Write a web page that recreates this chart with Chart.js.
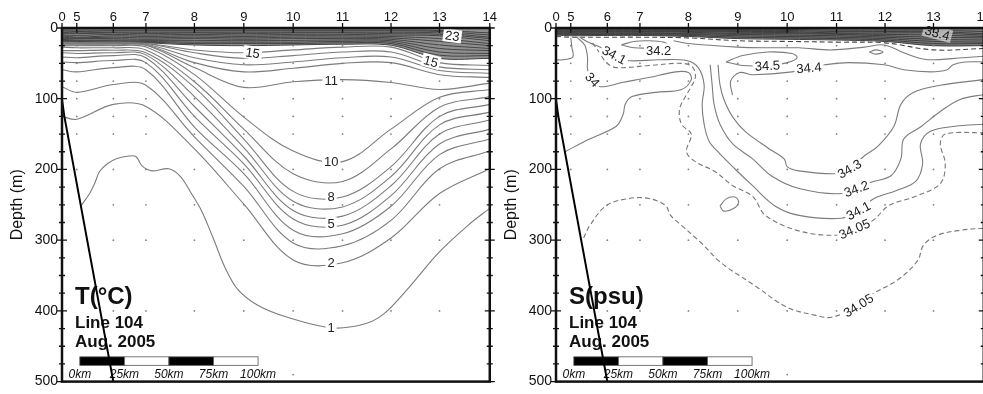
<!DOCTYPE html>
<html>
<head>
<meta charset="utf-8">
<script src="https://cdn.jsdelivr.net/npm/chart.js@4.4.1/dist/chart.umd.min.js"></script>
<style>
  html, body { margin: 0; padding: 0; background: #fff; width: 983px; height: 394px; overflow: hidden; }
  .panel { position: absolute; top: 0; width: 500px; height: 394px; }
  #left { left: 0; }
  #right { left: 494px; }
</style>
</head>
<body>
<div class="panel" id="left"><canvas id="tempCanvas" width="500" height="394"></canvas></div>
<div class="panel" id="right"><canvas id="saltCanvas" width="500" height="394"></canvas></div>
<script>
// Section Line 104, Aug. 2005: stations along the top, distance in km, depth in m
const stationNames = ['0', '5', '6', '7', '8', '9', '10', '11', '12', '13', '14'];
const stationKm = [0, 8.3, 28.8, 47.1, 74.3, 102, 129.7, 157.4, 184.6, 211.8, 240];
const sampleDepths = [25, 50, 75, 100, 125, 150, 200, 250, 300, 400, 490];
const stationDeepest = [0, 200, 400, 400, 400, 400, 490, 400, 400, 400, 0];
const seabed = [[0, 102], [0.6, 112], [1.4, 126], [28.8, 500]];
const scaleBarKm = [0, 25, 50, 75, 100];
const scaleBarStart = 10;

// ---- temperature ----
// warm surface layer, isotherms 27 .. 16 (depth at each station)
const tempSurface = [
  [3, 3, 3, 3, 3, 3, 3, 3, 3, 3.5, 7],
  [4, 5, 4, 4, 4, 4, 4, 4, 4, 5, 10],
  [6, 7, 6, 6, 6, 6, 6, 6, 6, 7, 13],
  [8, 8, 7, 8, 7, 8, 7, 7, 8, 9, 15],
  [10, 10.5, 9, 10, 9, 10, 9, 9, 10, 11, 18],
  [11, 13, 11, 12, 11, 12, 11, 11, 12, 15, 22],
  [13, 14, 13, 14, 13, 14, 13, 13, 14, 19, 25],
  [15, 15, 15, 16, 15, 16, 15, 15, 16, 24, 29],
  [16, 17, 17, 17.5, 17.5, 18, 17.5, 17, 18, 29, 32],
  [17.5, 18, 18, 19, 20, 20, 20, 19, 20, 34, 36],
  [18, 19, 20, 20, 22, 22, 22, 21, 22, 38.5, 39],
  [19, 20, 20, 21, 24, 25, 24, 23, 24.5, 43, 43]
];
const tempLevels = [15, 14, 13, 12, 11, 10, 9, 8, 7, 6, 5, 4, 3, 2];
const tempDepths = [
  [20, 21, 21, 22, 31, 35, 31, 27, 27, 49, 53],
  [21, 22, 22, 22, 35, 43, 39, 34, 34, 55, 59],
  [22, 22, 22, 23, 42, 52, 48, 42, 41, 60, 64],
  [23, 23, 23, 24, 49, 62, 57, 50, 49, 66, 70],
  [24, 24, 24, 24.5, 56, 84, 76, 73, 77, 87, 78],
  [25, 25, 25, 27, 66, 126, 174, 189, 143, 98, 87],
  [27, 28, 28, 31, 76, 143, 206, 217, 171, 112, 97],
  [32, 32, 31.5, 35, 84, 157, 231, 239, 196, 125, 108],
  [35, 36, 35, 38, 97, 169, 245, 253, 210, 137, 119],
  [41, 42, 39, 42, 111, 181, 258, 266, 223, 150, 130],
  [48, 49, 46, 49, 125, 192, 270, 279, 237, 164, 143],
  [59, 62, 56, 59, 140, 206, 286, 291, 252, 179, 157],
  [83, 91, 80, 81, 154, 224, 304, 308, 272, 199, 174],
  [125, 129, 108, 111, 171, 249, 328, 332, 297, 234, 199]
];
// the 1 degree isotherm leaves the slope and wraps under the cold pool
const temp1 = [[10.5, 252], [15.5, 234], [18.3, 220], [21.1, 203], [25.5, 192], [30.5, 185], [37.7, 181],
  [41.6, 182], [44.9, 195], [50.4, 202], [59.9, 199], [66.5, 210], [72.6, 234], [78.2, 258], [84.8, 297],
  [91.5, 339], [98.7, 370], [109.8, 392], [126.4, 409], [151.3, 424], [169.1, 419], [180.2, 405],
  [194.6, 367], [211.2, 318], [227.8, 279], [240, 255]];
const tempLabelText = ['23', '15', '15', '11', '10', '8', '5', '2', '1'];
const tempLabelAt = [[219, 11], [107, 35], [207, 47], [151, 74], [151, 189], [151, 238], [151, 276], [151, 331], [151, 424]];
const tempLabelTilt = [8, 8, 15, 0, 0, 0, 0, 0, 0];

// ---- salinity ----
const salSurface = [
  [2, 2, 2, 2, 2, 2, 2, 3, 3, 3, 5],
  [3, 3, 3, 3, 3, 3.5, 3.5, 5, 5, 5, 8],
  [4, 4, 4, 4, 4, 5, 5, 7, 7, 7, 10],
  [5, 5, 5, 5, 5, 6, 6.5, 8, 9, 10, 12],
  [6, 6, 6, 6, 6, 8, 8, 9, 11, 13, 14],
  [7, 7, 7.5, 7.5, 8, 9, 10, 11, 13, 16, 17],
  [8, 8, 8.5, 8.5, 9, 11, 12, 13, 15, 19, 20],
  [9, 9, 9.5, 9.5, 10.5, 13, 14, 15, 17, 22, 22],
  [10, 11, 10.5, 10.5, 12, 15, 16, 17, 19, 25, 25]
];
const salSurfaceDash = [12, 13, 13, 13, 14, 18, 19, 20, 21, 31, 29];
const salShelfCurl = [[8.3, 14], [8.9, 27], [9.4, 41], [3.9, 45], [0, 45]];
const sal340 = [[11.6, 13], [16.1, 24], [17.7, 42], [17.7, 59], [20.5, 73], [24.9, 83], [37.1, 77], [52.1, 70],
  [67.1, 62], [74.3, 63], [75.9, 73], [70.4, 87], [56, 91], [42.7, 97], [38.8, 108], [37.7, 122], [33.8, 139],
  [18.8, 157], [5, 175]];
const sal3405Upper = [[20.5, 21], [24.4, 35], [28.3, 49], [33.8, 56], [52.1, 53], [70.4, 50], [76.5, 55],
  [78.2, 69], [75.9, 83], [72.6, 97], [69.3, 115], [70.4, 136], [75.9, 150], [73.2, 175], [78.2, 189],
  [89.2, 203], [99.2, 223], [110.3, 238], [117.5, 265], [136.4, 287], [158.5, 293], [167.4, 284],
  [177.9, 272], [186.8, 251], [201.8, 238], [215.6, 220], [218.4, 192], [215.6, 164], [218.4, 150], [240, 148]];
const sal3405Lower = [[15.5, 297], [18.8, 280], [28.3, 251], [41, 241], [52.1, 241], [61.5, 251], [64.3, 265],
  [70.4, 279], [81.5, 304], [92.6, 332], [111.4, 364], [129.7, 395], [145.2, 406], [154.7, 409], [169.6, 392],
  [176.8, 377], [191.8, 356], [202.9, 329], [206.2, 307], [214, 293], [226.7, 286], [240, 283]];
const sal341 = [[13.3, 13], [18.8, 21], [25.5, 28], [32.7, 38], [39.9, 46], [57.6, 45], [73.2, 46], [79.8, 56],
  [83.1, 80], [82, 108], [83.1, 136], [85.9, 160], [92, 178], [100.3, 199], [110.3, 223], [123.1, 252],
  [136.4, 265], [160.2, 269], [169.6, 258], [178.5, 241], [190.7, 230], [201.8, 217], [205.7, 192],
  [204.5, 164], [210.1, 146], [224, 139], [240, 136]];
const sal342 = [[86.5, 52], [87.6, 80], [88.7, 108], [92, 136], [99.2, 164], [110.3, 185], [121.4, 210],
  [136.4, 227], [160.2, 234], [176.8, 218], [187.9, 209], [193.5, 185], [195.1, 157], [204.5, 140],
  [215.6, 118], [226.7, 101], [240, 94]];
const sal343 = [[90.9, 52], [92, 80], [94.2, 101], [99.2, 126], [106.4, 147], [119.7, 171], [128, 185],
  [129.7, 196], [136.4, 202], [157.4, 206], [164.6, 199], [172.9, 181], [180.7, 167], [189.6, 139],
  [193.5, 108], [200.7, 91], [215.6, 81], [240, 73]];
const sal344 = [[99, 95], [98, 75], [103, 63], [110.3, 66], [132.5, 62], [141.9, 56], [150.8, 52], [164.1, 49],
  [184, 52], [195.1, 59], [210.1, 62], [219.5, 59], [222.8, 52], [229.5, 48], [240, 48]];
const sal345 = [[95.3, 48], [104.8, 39], [118.6, 34], [132.5, 36], [135.3, 42], [129.7, 49], [118.6, 53],
  [104.8, 53], [95.3, 48]];
const salCoreEye = [[36.6, 24], [43.8, 19], [52.1, 18], [60.4, 20], [63.2, 25], [54.9, 28], [43.8, 28], [36.6, 24]];
const salSubsurface = [[66, 18], [74.3, 22], [102, 27], [117.5, 28], [136.4, 28], [154.7, 31], [173, 27],
  [184, 24], [195.1, 35], [202.9, 42], [210.1, 45], [228.4, 42], [240, 40]];
const salSmallEye = [[175.7, 34], [179.6, 31], [183.5, 34], [179.6, 37], [175.7, 34]];
const salDeepLoop = [[92, 252], [95.3, 242], [100.3, 239], [102.5, 246], [99.8, 255], [94.2, 259], [92, 252]];
const salLabelText = ['33.4', '34.2', '34.1', '34', '34.5', '34.4', '34.3', '34.2', '34.1', '34.05', '34.05'];
const salLabelAt = [[214, 7], [57.6, 31], [32.7, 38], [20.5, 73], [118.6, 53], [141.9, 56], [164.6, 199],
  [168.5, 227], [169.6, 258], [167.4, 284], [169.6, 392]];
const salLabelTilt = [15, 0, 28, 48, -3, -5, -30, -20, -28, -23, -32];

const FONT = '"Liberation Sans", Arial, Helvetica, sans-serif';
Chart.defaults.font.family = FONT;

function lineSet(points, extra) {
  return Object.assign({
    data: points.map(p => ({ x: p[0], y: p[1] })),
    showLine: true,
    pointRadius: 0,
    borderColor: '#7c7c7c',
    borderWidth: 1.1,
    tension: 0.35,
    fill: false
  }, extra || {});
}
function stationSet(depths, extra) {
  return lineSet(stationKm.map((k, i) => [k, depths[i]]), extra);
}

const samplePoints = [];
stationKm.forEach((k, i) => {
  sampleDepths.forEach(d => { if (d <= stationDeepest[i]) samplePoints.push({ x: k, y: d }); });
});

function commonSets() {
  return [
    lineSet(seabed, { borderColor: '#000', borderWidth: 2, tension: 0.2 }),
    { data: samplePoints, showLine: false, pointRadius: 0.9, pointBackgroundColor: '#808080', pointBorderWidth: 0 }
  ];
}

// contour labels sit on a white patch that breaks their line
const isoLabels = {
  id: 'isoLabels',
  afterDatasetsDraw(chart, args, opts) {
    const { ctx, scales: { x, y } } = chart;
    ctx.save();
    ctx.font = '13px ' + FONT;
    ctx.textAlign = 'center';
    ctx.textBaseline = 'middle';
    opts.text.forEach((t, i) => {
      ctx.save();
      ctx.translate(x.getPixelForValue(opts.at[i][0]), y.getPixelForValue(opts.at[i][1]));
      ctx.rotate(opts.tilt[i] * Math.PI / 180);
      const w = ctx.measureText(t).width + 4;
      ctx.fillStyle = (opts.soft && opts.soft.includes(i)) ? 'rgba(255,255,255,0.55)' : '#fff';
      ctx.fillRect(-w / 2, -6.5, w, 13);
      ctx.fillStyle = '#222';
      ctx.fillText(t, 0, 1);
      ctx.restore();
    });
    ctx.restore();
  }
};

// panel caption and distance scale bar
const caption = {
  id: 'caption',
  beforeDatasetsDraw(chart, args, opts) {
    const { ctx, chartArea: a, scales: { x, y } } = chart;
    ctx.save();
    ctx.fillStyle = '#111';
    ctx.textAlign = 'left';
    ctx.textBaseline = 'alphabetic';
    ctx.font = 'bold 24px ' + FONT;
    ctx.fillText(opts.title, a.left + 13, a.bottom - 78);
    ctx.font = 'bold 17px ' + FONT;
    ctx.fillText('Line 104', a.left + 13, a.bottom - 54);
    ctx.fillText('Aug. 2005', a.left + 13, a.bottom - 35);

    const top = y.getPixelForValue(465);
    const h = y.getPixelForValue(477) - top;
    for (let i = 0; i < scaleBarKm.length - 1; i++) {
      const x0 = x.getPixelForValue(scaleBarStart + scaleBarKm[i]);
      const x1 = x.getPixelForValue(scaleBarStart + scaleBarKm[i + 1]);
      ctx.fillStyle = i % 2 === 0 ? '#000' : '#fff';
      ctx.fillRect(x0, top, x1 - x0, h);
      ctx.strokeStyle = '#555';
      ctx.lineWidth = 0.8;
      ctx.strokeRect(x0, top, x1 - x0, h);
    }
    ctx.fillStyle = '#111';
    ctx.textAlign = 'center';
    ctx.font = 'italic 12px ' + FONT;
    scaleBarKm.forEach(k => {
      ctx.fillText(k + 'km', x.getPixelForValue(scaleBarStart + k), top + h + 13);
    });
    ctx.restore();
  }
};

// heavy frame, station ticks on top, 25 m ticks on both sides, axis title
const frame = {
  id: 'frame',
  afterDraw(chart) {
    const { ctx, chartArea: a, scales: { x, y } } = chart;
    ctx.save();
    ctx.strokeStyle = '#111';
    ctx.lineWidth = 1.3;
    ctx.beginPath();
    stationKm.forEach(k => {
      const px = x.getPixelForValue(k);
      ctx.moveTo(px, a.top - 5);
      ctx.lineTo(px, a.top + 5);
    });
    for (let d = 0; d <= 500; d += 25) {
      const py = y.getPixelForValue(d);
      const len = d % 100 === 0 ? 5 : 3;
      ctx.moveTo(a.left - len, py); ctx.lineTo(a.left + len, py);
      ctx.moveTo(a.right - len, py); ctx.lineTo(a.right + len, py);
    }
    ctx.stroke();
    ctx.lineWidth = 2.5;
    ctx.strokeRect(a.left, a.top, a.right - a.left, a.bottom - a.top);

    ctx.translate(18, (a.top + a.bottom) / 2);
    ctx.rotate(-Math.PI / 2);
    ctx.fillStyle = '#111';
    ctx.font = '16px ' + FONT;
    ctx.textAlign = 'center';
    ctx.textBaseline = 'middle';
    ctx.fillText('Depth (m)', 0, 0);
    ctx.restore();
  }
};

function sectionOptions(title, labels) {
  return {
    responsive: false,
    animation: false,
    layout: { padding: { left: 0, right: 5, top: 0, bottom: 9 } },
    scales: {
      x: {
        type: 'linear',
        position: 'top',
        min: 0,
        max: 240,
        afterBuildTicks: s => { s.ticks = stationKm.map(v => ({ value: v })); },
        afterFit: s => { s.height = 28; },
        ticks: {
          autoSkip: false,
          maxRotation: 0,
          padding: 3,
          color: '#111',
          font: { size: 13 },
          callback: (v, i) => stationNames[i]
        },
        grid: { display: false, drawTicks: false },
        border: { display: false }
      },
      y: {
        type: 'linear',
        reverse: true,
        min: 0,
        max: 500,
        afterFit: s => { s.width = 62; },
        ticks: { stepSize: 100, padding: 4, color: '#111', font: { size: 14 } },
        grid: { display: false, drawTicks: false },
        border: { display: false }
      }
    },
    plugins: {
      legend: { display: false },
      tooltip: { enabled: false },
      caption: { title: title },
      isoLabels: labels
    }
  };
}

// temperature section
const tempSets = commonSets();
tempSets.push(lineSet(temp1));
tempDepths.forEach(d => tempSets.push(stationSet(d)));
tempSurface.forEach(d => tempSets.push(stationSet(d, { borderColor: '#454545', borderWidth: 1 })));
tempSets.push(stationSet(tempSurface[tempSurface.length - 1], {
  borderWidth: 0, fill: { value: 0 }, backgroundColor: 'rgba(70,70,70,0.6)'
}));

new Chart(document.getElementById('tempCanvas'), {
  type: 'scatter',
  data: { datasets: tempSets },
  options: sectionOptions('T(°C)', { text: tempLabelText, at: tempLabelAt, tilt: tempLabelTilt, soft: [] }),
  plugins: [caption, isoLabels, frame]
});

// salinity section
const dashed = { borderDash: [5, 3], borderColor: '#777' };
const saltSets = commonSets();
[sal340, sal341, sal342, sal343, sal344, sal345, salCoreEye, salSubsurface, salSmallEye, salDeepLoop, salShelfCurl]
  .forEach(p => saltSets.push(lineSet(p)));
saltSets.push(lineSet(sal3405Upper, dashed));
saltSets.push(lineSet(sal3405Lower, dashed));
saltSets.push(stationSet(salSurfaceDash, { borderDash: [5, 3], borderColor: '#444' }));
salSurface.forEach(d => saltSets.push(stationSet(d, { borderColor: '#404040', borderWidth: 1 })));
saltSets.push(stationSet(salSurface[salSurface.length - 1], {
  borderWidth: 0, fill: { value: 0 }, backgroundColor: 'rgba(55,55,55,0.65)'
}));

new Chart(document.getElementById('saltCanvas'), {
  type: 'scatter',
  data: { datasets: saltSets },
  options: sectionOptions('S(psu)', { text: salLabelText, at: salLabelAt, tilt: salLabelTilt, soft: [0] }),
  plugins: [caption, isoLabels, frame]
});
</script>
</body>
</html>
